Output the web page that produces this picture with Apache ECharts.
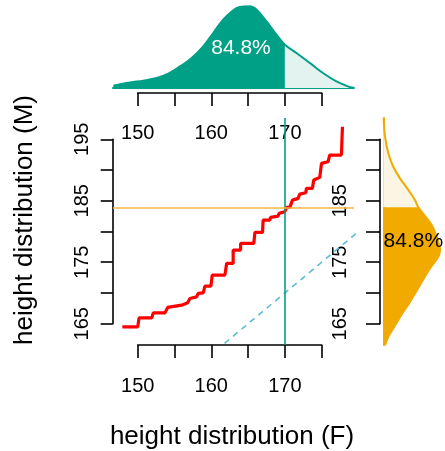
<!DOCTYPE html>
<html><head><meta charset="utf-8">
<script src="https://cdn.jsdelivr.net/npm/echarts@6/dist/echarts.min.js"></script>
<style>html,body{margin:0;padding:0;background:#fff}#c{width:445px;height:451px}</style>
</head><body><div id="c"></div>
<script>
// Q-Q step line: sorted female heights vs sorted male heights
const qqF = [147.91,150.0,150.18,151.9,152.12,153.7,154.07,155.97,156.78,157.1,158.0,158.22,158.9,159.13,159.95,160.12,161.85,162.08,162.97,162.97,163.98,163.98,165.78,165.92,166.96,167.04,167.95,168.05,169.08,169.21,169.99,170.22,170.67,171.03,171.79,172.02,172.84,172.93,173.74,173.92,174.74,174.97,175.86,176.09,177.68,177.82];
const qqM = [164.48,164.48,165.94,165.94,166.76,166.76,167.64,168.01,168.39,169.1,169.36,169.92,170.02,171.11,171.11,172.9,172.9,174.8,174.8,176.97,176.97,178.06,178.06,179.85,179.85,181.86,181.86,182.3,182.51,182.95,183.21,183.93,183.93,185.11,185.39,186.09,186.3,187.02,187.02,188.37,188.81,191.09,191.35,192.44,192.44,197.05];

// female density (top margin)
const densFx = [146.69,148.96,150.76,152.58,154.15,155.74,157.33,158.9,160.26,161.61,163.07,163.88,165.24,166.15,167.5,168.86,170.0,171.57,173.38,175.18,177.0,178.8,179.35];
const densFy = [0.0016,0.0038,0.0050,0.0068,0.0098,0.0147,0.0205,0.0284,0.0375,0.0466,0.0534,0.0552,0.0557,0.0534,0.0454,0.0364,0.0295,0.0239,0.0171,0.0102,0.0045,0.0007,0.0002];

// male density (right margin)
const densMh = [198.42,195.42,192.72,190.54,188.65,186.74,185.11,183.93,181.04,178.32,176.97,175.88,173.99,171.27,168.55,166.92,165.57,164.22,162.85,161.5];
const densMd = [0.0002,0.0012,0.0034,0.0068,0.0114,0.0171,0.0216,0.0239,0.0330,0.0375,0.0387,0.0375,0.0318,0.0250,0.0182,0.0136,0.0102,0.0068,0.0034,0.0012];

const fCut = 170;       // female reference height
const mCut = 183.93;    // male height at same percentile
const pctLabel = '84.8%';
const identity = [140, 200];

const xRange = [146.64, 179.39];
const yRange = [161.53, 198.47];
const xTicks = {min:150, max:175, step:5, labels:[150,160,170]};
const yTicksLeft = {min:165, max:195, step:5, labels:[165,175,185,195]};
const yTicksRight = {min:165, max:195, step:5, labels:[165,175,185]};

const TEAL = '#00A087', TEAL_L = '#E3F4F0', ORANGE = '#F0AA00', CREAM = '#FDF5E4';
const FONT = 'Liberation Sans, Arial, sans-serif';

const chart = echarts.init(document.getElementById('c'), null, {renderer:'canvas'});

const blackLine = {lineStyle:{color:'#000', width:1.6}};
const qqData = qqF.map((f,i)=>[f, qqM[i]]);
const fData = densFx.map((x,i)=>[x, densFy[i]]);
const fDark = fData.filter(p=>p[0] <= fCut);
const fLight = fData.filter(p=>p[0] >= fCut);
const mData = densMh.map((h,i)=>[densMd[i], h]);
const mLightPoly = [[0, yRange[1]]].concat(mData.filter(p=>p[1] >= mCut)).concat([[0, mCut]]);
const mDarkPoly = [[0, mCut]].concat(mData.filter(p=>p[1] <= mCut)).concat([[0, yRange[0]]]);

function polyRender(pts, color){
  return function(params, api){
    if (params.dataIndex !== 0) return;
    return {type:'polygon', shape:{points: pts.map(p=>api.coord(p))}, style:{fill:color}};
  };
}
const fmt = (set)=> (v)=> set.indexOf(v) >= 0 ? String(v) : '';

const option = {
  animation:false,
  backgroundColor:'#fff',
  textStyle:{fontFamily:FONT},
  grid:[
    {left:113, top:118, width:241, height:227, outerBoundsMode:'none'},        // 0 main
    {left:113, top:0, width:241, height:88, outerBoundsMode:'none'},           // 1 top density
    {left:383.3, top:118, width:61, height:227, outerBoundsMode:'none'},       // 2 right density
    {left:137.7, top:344, width:184, height:1, outerBoundsMode:'none'},        // 3 bottom axis
    {left:112.7, top:139.3, width:1, height:184.4, outerBoundsMode:'none'},    // 4 left axis
    {left:137.7, top:92, width:184, height:1, outerBoundsMode:'none'},         // 5 top axis
    {left:380, top:139.3, width:1, height:184.4, outerBoundsMode:'none'}       // 6 right axis
  ],
  xAxis:[
    {gridIndex:0, type:'value', min:xRange[0], max:xRange[1], show:false},
    {gridIndex:1, type:'value', min:xRange[0], max:xRange[1], axisLine:{show:true, onZero:false, lineStyle:{color:TEAL, width:2}}, axisTick:{show:false}, axisLabel:{show:false}, splitLine:{show:false}},
    {gridIndex:2, type:'value', min:0, max:0.0416, show:false},
    {gridIndex:3, type:'value', min:xTicks.min, max:xTicks.max, interval:xTicks.step, position:'bottom',
      axisLine:blackLine, axisTick:{length:13, ...blackLine}, splitLine:{show:false},
      axisLabel:{fontSize:20, color:'#000', margin:31, fontFamily:FONT, formatter:fmt(xTicks.labels)}},
    {gridIndex:4, type:'value', show:false},
    {gridIndex:5, type:'value', min:xTicks.min, max:xTicks.max, interval:xTicks.step, position:'top',
      axisLine:blackLine, axisTick:{inside:true, length:13, ...blackLine}, splitLine:{show:false},
      axisLabel:{inside:true, fontSize:20, color:'#000', margin:31, fontFamily:FONT, formatter:fmt(xTicks.labels)}},
    {gridIndex:6, type:'value', show:false}
  ],
  yAxis:[
    {gridIndex:0, type:'value', min:yRange[0], max:yRange[1], show:false},
    {gridIndex:1, type:'value', min:0, max:0.06, show:false},
    {gridIndex:2, type:'value', min:yRange[0], max:yRange[1], axisLine:{show:true, onZero:false, lineStyle:{color:ORANGE, width:2}}, axisTick:{show:false}, axisLabel:{show:false}, splitLine:{show:false}},
    {gridIndex:3, type:'value', show:false},
    {gridIndex:4, type:'value', min:yTicksLeft.min, max:yTicksLeft.max, interval:yTicksLeft.step, position:'left',
      axisLine:blackLine, axisTick:{length:12, ...blackLine}, splitLine:{show:false},
      axisLabel:{rotate:90, fontSize:20, color:'#000', margin:20, fontFamily:FONT, formatter:fmt(yTicksLeft.labels)}},
    {gridIndex:5, type:'value', show:false},
    {gridIndex:6, type:'value', min:yTicksRight.min, max:yTicksRight.max, interval:yTicksRight.step, position:'left',
      axisLine:blackLine, axisTick:{length:14, ...blackLine}, splitLine:{show:false},
      axisLabel:{rotate:90, fontSize:20, color:'#000', margin:30, fontFamily:FONT, formatter:fmt(yTicksRight.labels)}}
  ],
  graphic:[
    {type:'text', x:232, y:437, style:{text:'height distribution (F)', font:'26px '+FONT, fill:'#000', textAlign:'center', textVerticalAlign:'middle'}},
    {type:'text', x:25, y:220, rotation:Math.PI/2, style:{text:'height distribution (M)', font:'26px '+FONT, fill:'#000', textAlign:'center', textVerticalAlign:'middle'}}
  ],
  series:[
    // top density fills
    {type:'line', xAxisIndex:1, yAxisIndex:1, data:fDark, smooth:0.4, symbol:'none', lineStyle:{width:0}, areaStyle:{color:TEAL, opacity:1}, z:2},
    {type:'line', xAxisIndex:1, yAxisIndex:1, data:fLight, smooth:0.4, symbol:'none', lineStyle:{width:0}, areaStyle:{color:TEAL_L, opacity:1}, z:2},
    {type:'line', xAxisIndex:1, yAxisIndex:1, data:fData, smooth:0.4, symbol:'none', lineStyle:{color:TEAL, width:2}, z:3},
    {type:'scatter', xAxisIndex:1, yAxisIndex:1, data:[[164.03, 0.0270]], symbolSize:0, z:5, itemStyle:{opacity:1},
      label:{show:true, position:'inside', formatter:pctLabel, color:'#fff', fontSize:21, fontFamily:FONT}},
    // right density fills
    {type:'custom', xAxisIndex:2, yAxisIndex:2, data:[[0, 180]], renderItem:polyRender(mLightPoly, CREAM), z:2},
    {type:'custom', xAxisIndex:2, yAxisIndex:2, data:[[0, 180]], renderItem:polyRender(mDarkPoly, ORANGE), z:2},
    {type:'line', xAxisIndex:2, yAxisIndex:2, data:mData, smooth:0.4, symbol:'none', lineStyle:{color:ORANGE, width:2}, z:3},
    {type:'scatter', xAxisIndex:2, yAxisIndex:2, data:[[0.0205, 178.34]], symbolSize:0, z:5, itemStyle:{opacity:1},
      label:{show:true, position:'inside', formatter:pctLabel, color:'#000', fontSize:21, fontFamily:FONT}},
    // main plot
    {type:'line', xAxisIndex:0, yAxisIndex:0, data:identity.map(v=>[v,v]), symbol:'none', clip:true,
      lineStyle:{color:'#5BBCD6', width:1.6, type:[6,5]}, z:2},
    {type:'line', xAxisIndex:0, yAxisIndex:0, data:qqData, symbol:'none', lineStyle:{color:'#FF0000', width:3.2}, z:3,
      markLine:{silent:true, symbol:'none', label:{show:false}, animation:false,
        data:[{xAxis:fCut, lineStyle:{color:TEAL, width:1.6, type:'solid'}}, {yAxis:mCut, lineStyle:{color:'#F0B440', width:1.6, type:'solid'}}]}}
  ]
};
chart.setOption(option);
</script></body></html>
